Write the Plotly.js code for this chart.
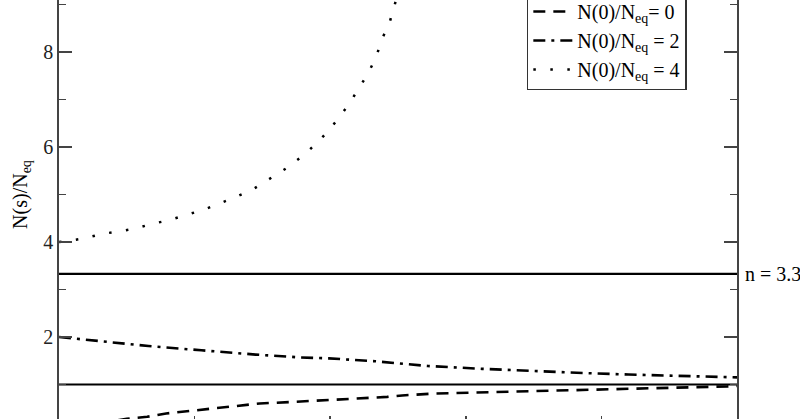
<!DOCTYPE html>
<html>
<head>
<meta charset="utf-8">
<script src="https://cdn.plot.ly/plotly-3.0.1.min.js"></script>
<style>
  html, body { margin: 0; padding: 0; overflow: hidden; background: #fff; }
  #chart { position: absolute; left: 0; top: -100px; width: 800px; height: 600px; }
</style>
</head>
<body>
<div id="chart"></div>
<script>
// ---- data ----
const sDashed = [0, 0.25, 0.50, 0.65, 0.79, 1.02, 1.26, 1.48, 1.70, 1.92, 2.17, 2.42, 2.53, 2.77, 3.22, 3.66, 4.00, 4.34, 4.69, 4.93, 5.0];
const nDashed = [0, 0.15, 0.28, 0.32, 0.39, 0.46, 0.53, 0.60, 0.63, 0.67, 0.70, 0.74, 0.77, 0.81, 0.84, 0.86, 0.89, 0.91, 0.93, 0.96, 0.97];

const sDashDot = [0, 0.29, 0.46, 0.66, 1.05, 1.22, 1.45, 1.78, 1.99, 2.33, 2.53, 2.72, 3.12, 3.49, 3.88, 4.20, 4.57, 4.86, 5.0];
const nDashDot = [2.00, 1.92, 1.86, 1.81, 1.72, 1.68, 1.63, 1.57, 1.55, 1.49, 1.44, 1.39, 1.33, 1.28, 1.24, 1.21, 1.19, 1.16, 1.15];

const sDotted = [0, 0.064, 0.192, 0.315, 0.437, 0.560, 0.684, 0.813, 0.937, 1.060, 1.182, 1.313, 1.436, 1.558, 1.681, 1.809, 1.932, 2.023, 2.122, 2.198, 2.279, 2.338, 2.382, 2.441, 2.485, 2.52, 2.55];
const nDotted = [4.00, 4.02, 4.08, 4.17, 4.22, 4.28, 4.38, 4.46, 4.57, 4.67, 4.81, 4.96, 5.12, 5.33, 5.56, 5.84, 6.17, 6.47, 6.84, 7.17, 7.55, 7.89, 8.27, 8.65, 9.09, 9.6, 10.2];

const legendNames = ['N(0)/N<sub>eq</sub>= 0', 'N(0)/N<sub>eq</sub> = 2', 'N(0)/N<sub>eq</sub> = 4'];
const hLevels = [1, 3.33];
const hLabel = 'n = 3.3';
const sRange = [0, 5];
const sTicks = [1, 2, 3, 4];
const yTicks = [2, 4, 6, 8];
const yTitle = 'N(s)/N<sub>eq</sub>';

const FONT = 'Liberation Serif';

const traces = [];
hLevels.forEach(v => {
  traces.push({
    x: sRange, y: [v, v], mode: 'lines', showlegend: false, hoverinfo: 'skip',
    line: { color: '#000', width: 2.2 }
  });
});
traces.push({ x: sDashed, y: nDashed, mode: 'lines', name: legendNames[0],
  line: { color: '#000', width: 2.6, dash: '12px,8px' } });
traces.push({ x: sDashDot, y: nDashDot, mode: 'lines', name: legendNames[1],
  line: { color: '#000', width: 2.6, dash: '12px,6px,3px,6px' } });
traces.push({ x: sDotted, y: nDotted, mode: 'lines', name: legendNames[2],
  line: { color: '#000', width: 2.5, dash: '2.5px,14.5px' } });

const layout = {
  width: 800, height: 600,
  margin: { l: 59, r: 63, t: 57, b: 68 },
  paper_bgcolor: '#fff', plot_bgcolor: '#fff',
  font: { family: FONT, color: '#000', size: 19 },
  showlegend: true,
  legend: {
    x: 0.926, y: 0.719, xanchor: 'right', yanchor: 'bottom',
    bgcolor: '#fff', bordercolor: '#333', borderwidth: 1.5,
    font: { family: FONT, size: 20, color: '#000' },
    itemwidth: 39,
    tracegroupgap: 0
  },
  xaxis: {
    range: sRange, tickvals: sTicks, showticklabels: false,
    ticks: 'inside', ticklen: 16, tickwidth: 1.5, tickcolor: '#444',
    showline: true, linecolor: '#444', linewidth: 1.8, mirror: 'allticks',
    showgrid: false, zeroline: false
  },
  yaxis: {
    range: [0, 10], tickvals: yTicks,
    ticks: 'inside', ticklen: 13, tickwidth: 1.5, tickcolor: '#444',
    minor: { dtick: 1, ticks: 'inside', ticklen: 7, tickwidth: 1.5, tickcolor: '#444', showgrid: false },
    showline: true, linecolor: '#444', linewidth: 1.8, mirror: 'allticks',
    showgrid: false, zeroline: false,
    tickfont: { family: FONT, size: 20, color: '#222' },
    title: { text: yTitle, font: { family: FONT, size: 20, color: '#000' }, standoff: 10 }
  },
  annotations: [{
    xref: 'paper', yref: 'y', x: 1, y: hLevels[1], xanchor: 'left', yanchor: 'middle',
    xshift: 6, text: hLabel, showarrow: false,
    font: { family: FONT, size: 20, color: '#000' }
  }]
};

Plotly.newPlot('chart', traces, layout, { displayModeBar: false, staticPlot: true });
</script>
</body>
</html>
